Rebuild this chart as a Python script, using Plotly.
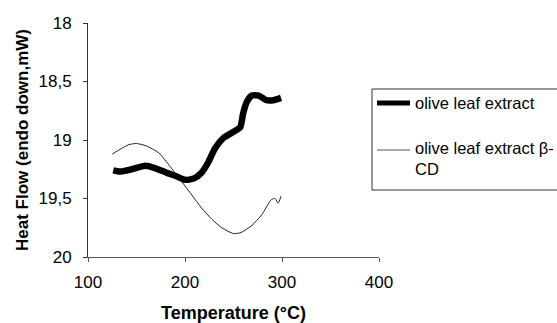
import plotly.graph_objects as go

# Data
temp_ole = [126, 133, 145, 159, 169, 181, 191, 200, 209, 217, 224, 231, 240, 250, 257, 260, 264, 269, 276, 284, 291, 299]
heat_ole = [19.26, 19.27, 19.25, 19.22, 19.24, 19.28, 19.31, 19.34, 19.33, 19.28, 19.19, 19.07, 18.98, 18.93, 18.89, 18.77, 18.67, 18.62, 18.62, 18.66, 18.66, 18.64]

temp_cd = [125, 133, 142, 150, 160, 173, 185, 197, 207, 217, 228, 238, 250, 258, 269, 279, 289, 293, 296, 299]
heat_cd = [19.12, 19.08, 19.04, 19.03, 19.05, 19.11, 19.23, 19.36, 19.47, 19.58, 19.68, 19.75, 19.80, 19.79, 19.73, 19.64, 19.51, 19.50, 19.54, 19.48]

x_ticks = [100, 200, 300, 400]
y_ticks = [18, 18.5, 19, 19.5, 20]
y_tick_labels = ["18", "18,5", "19", "19,5", "20"]

name_ole = "olive leaf extract"
name_cd = "olive leaf extract β-<br>CD"

W, H = 557, 323
L, R, T, B = 88, 379, 23, 257


def px(x):
    return (x - L) / (R - L)


def py(y):
    return (B - y) / (B - T)


FONT = "Liberation Sans, Arial, sans-serif"

fig = go.Figure()
fig.add_trace(go.Scatter(x=temp_cd, y=heat_cd, mode="lines",
                         line=dict(color="#222222", width=1, shape="spline", smoothing=0.6),
                         showlegend=False))
fig.add_trace(go.Scatter(x=temp_ole, y=heat_ole, mode="lines",
                         line=dict(color="black", width=6.5, shape="spline", smoothing=0.6),
                         showlegend=False))

# manual legend
shapes = [
    dict(type="rect", xref="paper", yref="paper", x0=px(372), x1=px(570), y0=py(190), y1=py(89),
         line=dict(color="#333333", width=1), fillcolor="white", layer="below"),
    dict(type="line", xref="paper", yref="paper", x0=px(377), x1=px(410), y0=py(103), y1=py(103),
         line=dict(color="black", width=5)),
    dict(type="line", xref="paper", yref="paper", x0=px(377), x1=px(410), y0=py(150), y1=py(150),
         line=dict(color="#555555", width=1)),
]
annotations = [
    dict(xref="paper", yref="paper", x=px(413), y=py(103), text=name_ole, showarrow=False,
         xanchor="left", yanchor="middle", font=dict(family=FONT, size=16.5, color="black")),
    dict(xref="paper", yref="paper", x=px(413), y=py(159), text=name_cd, showarrow=False,
         xanchor="left", yanchor="middle", align="left",
         font=dict(family=FONT, size=16.5, color="black")),
]

fig.update_layout(
    width=W, height=H,
    margin=dict(l=L, r=W - R, t=T, b=H - B, pad=0),
    paper_bgcolor="white", plot_bgcolor="white",
    font=dict(family=FONT, color="black"),
    shapes=shapes, annotations=annotations,
    showlegend=False,
)
fig.update_xaxes(range=[100, 400], tickvals=x_ticks, showgrid=False, zeroline=False,
                 automargin=False,
                 showline=True, linecolor="#555555", linewidth=1,
                 ticks="outside", ticklen=4, tickcolor="#555555",
                 ticklabelstandoff=6,
                 tickfont=dict(family=FONT, size=17),
                 title=dict(text="<b>Temperature (°C)</b>", font=dict(family=FONT, size=18), standoff=17))
fig.update_yaxes(range=[20, 18], tickvals=y_ticks, ticktext=y_tick_labels,
                 showgrid=False, zeroline=False,
                 automargin=False,
                 showline=True, linecolor="#333333", linewidth=1,
                 ticks="outside", ticklen=4, tickcolor="#333333",
                 ticklabelstandoff=8,
                 tickfont=dict(family=FONT, size=17),
                 title=dict(text="<b>Heat Flow (endo down,mW)</b>", font=dict(family=FONT, size=17), standoff=5))

fig.write_html("out.html", config={"displayModeBar": False},
               post_script="document.body.style.margin='0';")
